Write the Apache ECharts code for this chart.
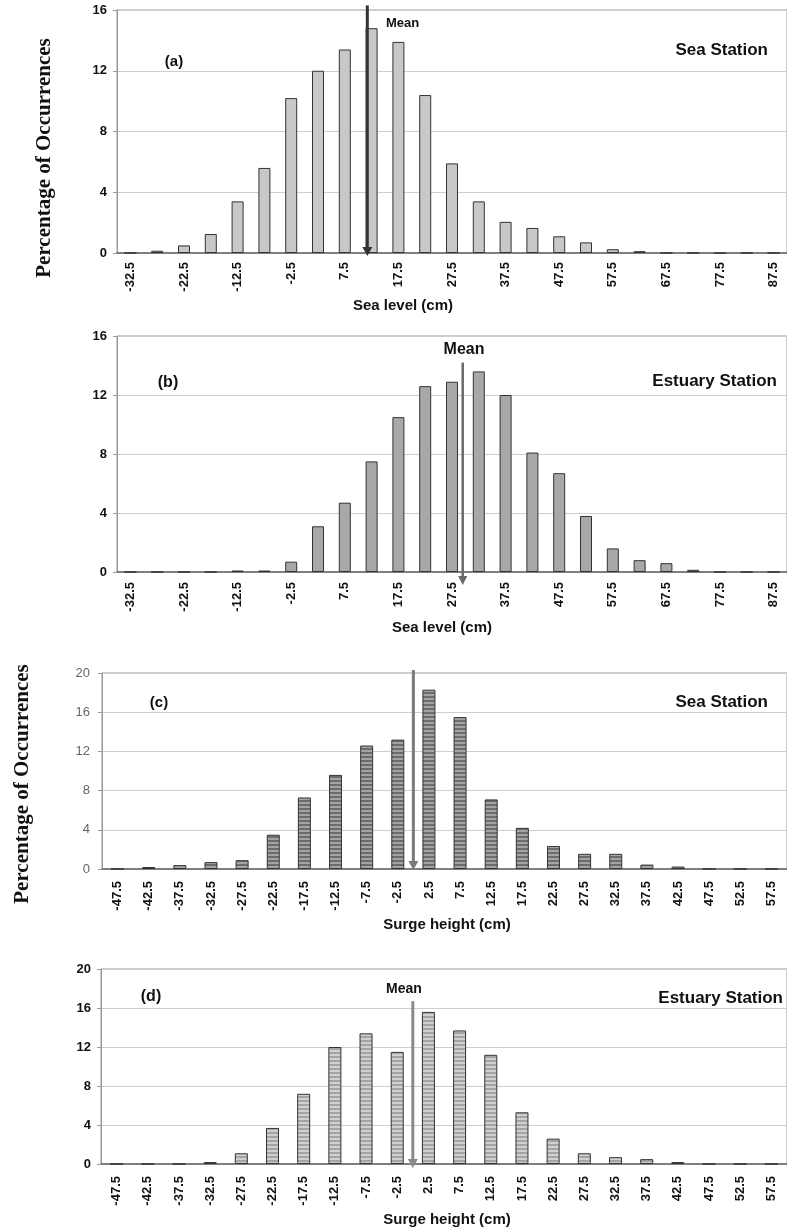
<!DOCTYPE html>
<html><head><meta charset="utf-8">
<script src="https://cdn.jsdelivr.net/npm/echarts@6/dist/echarts.min.js"></script>
<style>html,body{margin:0;padding:0;background:#fff}#c{width:787px;height:1232px}</style>
</head><body><div id="c"></div>
<script>
// ---------- data ----------
const seaLevelCats = ['-32.5','-27.5','-22.5','-17.5','-12.5','-7.5','-2.5','2.5','7.5','12.5','17.5','22.5','27.5','32.5','37.5','42.5','47.5','52.5','57.5','62.5','67.5','72.5','77.5','82.5','87.5'];
const seaStationLevel     = [0, 0.15, 0.5, 1.25, 3.4, 5.6, 10.2, 12.0, 13.4, 14.8, 13.9, 10.4, 5.9, 3.4, 2.05, 1.65, 1.1, 0.7, 0.25, 0.12, 0, 0, 0, 0, 0];
const estuaryStationLevel = [0, 0, 0, 0, 0.1, 0.1, 0.7, 3.1, 4.7, 7.5, 10.5, 12.6, 12.9, 13.6, 12.0, 8.1, 6.7, 3.8, 1.6, 0.8, 0.6, 0.15, 0, 0, 0];
const surgeCats = ['-47.5','-42.5','-37.5','-32.5','-27.5','-22.5','-17.5','-12.5','-7.5','-2.5','2.5','7.5','12.5','17.5','22.5','27.5','32.5','37.5','42.5','47.5','52.5','57.5'];
const seaStationSurge     = [0, 0.2, 0.4, 0.7, 0.9, 3.5, 7.3, 9.6, 12.6, 13.2, 18.3, 15.5, 7.1, 4.2, 2.35, 1.55, 1.55, 0.45, 0.25, 0, 0, 0];
const estuaryStationSurge = [0, 0, 0, 0.2, 1.1, 3.7, 7.2, 12.0, 13.4, 11.5, 15.6, 13.7, 11.2, 5.3, 2.6, 1.1, 0.7, 0.5, 0.2, 0, 0, 0];
// mean values (cm) and the vertical extent of the mean arrows (in % units)
const meanValues = [11.7, 29.5, 0, 0];
const meanArrowTop = [16.3, 14.2, 20.3, 16.7];
const meanArrowBottom = [-0.2, -0.88, -0.1, -0.4];
// ---------- chart ----------
const FONT = '"Liberation Sans", Arial, sans-serif';
function stripe(a, b) {
  const c = document.createElement('canvas'); c.width = 4; c.height = 4;
  const g = c.getContext('2d'); g.fillStyle = a; g.fillRect(0, 0, 4, 4);
  g.fillStyle = b; g.fillRect(0, 2, 4, 2); return c;
}
const panels = [
  {grid:{left:117, top:10, right:-4, height:243}, cats:seaLevelCats, data:seaStationLevel, min:-35, max:90, ymax:16, labelEvery:1,
   fill:'#c8c8c8', barW:12, arrowColor:'#333', arrowW:3, headW:10, headL:9, yColor:'#111', yWeight:'bold', xMargin:9, yMargin:10},
  {grid:{left:117, top:336, right:-1, height:236}, cats:seaLevelCats, data:estuaryStationLevel, min:-35, max:90, ymax:16, labelEvery:1,
   fill:'#a8a8a8', barW:12, arrowColor:'#6a6a6a', arrowW:2.5, headW:9, headL:9, yColor:'#111', yWeight:'bold', xMargin:10, yMargin:10},
  {grid:{left:102, top:673, right:-1, height:196}, cats:surgeCats, data:seaStationSurge, min:-50, max:60, ymax:20, labelEvery:0,
   fill:{image:stripe('#6c6c6c', '#a4a4a4'), repeat:'repeat'}, barW:13, arrowColor:'#7a7a7a', arrowW:3, headW:10, headL:9, yColor:'#666', yWeight:'normal', xMargin:12, yMargin:12},
  {grid:{left:101, top:969, right:-1, height:195}, cats:surgeCats, data:estuaryStationSurge, min:-50, max:60, ymax:20, labelEvery:0,
   fill:{image:stripe('#a4a4a4', '#d0d0d0'), repeat:'repeat'}, barW:13, arrowColor:'#8a8a8a', arrowW:3, headW:10, headL:9, yColor:'#111', yWeight:'bold', xMargin:12, yMargin:10}
];
const grid = [], xAxis = [], yAxis = [], series = [];
panels.forEach((p, i) => {
  grid.push(Object.assign({show:true, borderColor:'#9a9a9a', borderWidth:1, backgroundColor:'transparent'}, p.grid));
  xAxis.push({gridIndex:i, type:'category', data:p.cats, boundaryGap:true,
    axisLine:{onZero:false, lineStyle:{color:'#666', width:1.5}},
    axisTick:{interval:0, length:4, lineStyle:{color:'#888'}},
    axisLabel:{interval:p.labelEvery, rotate:90, fontFamily:FONT, fontWeight:'bold', fontSize:13, color:'#111', margin:p.xMargin}});
  xAxis.push({gridIndex:i, type:'value', min:p.min, max:p.max, show:false,
    axisLine:{onZero:false}, splitLine:{show:false}});
  yAxis.push({gridIndex:i, type:'value', min:0, max:p.ymax, interval:4,
    axisLine:{show:true, onZero:false, lineStyle:{color:'#999', width:1}},
    axisTick:{show:true, length:4, lineStyle:{color:'#999'}},
    axisLabel:{fontFamily:FONT, fontWeight:p.yWeight, fontSize:13, color:p.yColor, margin:p.yMargin},
    splitLine:{lineStyle:{color:'#cfcfcf', width:1}}});
  series.push({type:'bar', xAxisIndex:2*i, yAxisIndex:i, data:p.data, barWidth:p.barW, silent:true,
    itemStyle:{color:p.fill, borderColor:'#333', borderWidth:1}});
  series.push({type:'custom', xAxisIndex:2*i+1, yAxisIndex:i, silent:true, clip:false, z:5,
    encode:{x:0, y:1},
    data:[[meanValues[i], meanArrowTop[i], meanArrowBottom[i]]],
    renderItem:(params, api) => {
      const t = api.coord([api.value(0), api.value(1)]);
      const b = api.coord([api.value(0), api.value(2)]);
      const hw = p.headW / 2, hl = p.headL;
      return {type:'group', children:[
        {type:'line', shape:{x1:t[0], y1:t[1], x2:b[0], y2:b[1] - hl + 1},
         style:{stroke:p.arrowColor, lineWidth:p.arrowW}},
        {type:'polygon', shape:{points:[[b[0] - hw, b[1] - hl], [b[0] + hw, b[1] - hl], [b[0], b[1]]]},
         style:{fill:p.arrowColor}}
      ]};
    }});
});
function txt(x, y, text, size, opts) {
  opts = opts || {};
  return {type:'text', x:x, y:y, rotation:opts.rot || 0, silent:true,
    style:{text:text, fill:opts.color || '#111',
      font:(opts.weight || 'bold') + ' ' + size + 'px ' + (opts.family || FONT),
      align:opts.align || 'center', verticalAlign:'middle',
      textAlign:opts.align || 'center', textVerticalAlign:'middle'}};
}
const SERIF = '"Liberation Serif", "Times New Roman", serif';
const graphics = [
  txt(45, 158, 'Percentage of Occurrences', 21, {rot:Math.PI/2, family:SERIF}),
  txt(23, 784, 'Percentage of Occurrences', 21, {rot:Math.PI/2, family:SERIF}),
  txt(174, 62, '(a)', 15), txt(768, 50, 'Sea Station', 17, {align:'right'}),
  txt(386, 23, 'Mean', 13, {align:'left'}), txt(403, 306, 'Sea level (cm)', 15),
  txt(168, 383, '(b)', 16), txt(777, 381, 'Estuary Station', 17, {align:'right'}),
  txt(464, 350, 'Mean', 16), txt(442, 628, 'Sea level (cm)', 15),
  txt(159, 703, '(c)', 15), txt(768, 702, 'Sea Station', 17, {align:'right'}),
  txt(447, 925, 'Surge height (cm)', 15),
  txt(151, 997, '(d)', 16), txt(783, 998, 'Estuary Station', 17, {align:'right'}),
  txt(404, 989, 'Mean', 14), txt(447, 1220, 'Surge height (cm)', 15)
];
const chart = echarts.init(document.getElementById('c'), null, {renderer:'canvas'});
chart.setOption({animation:false, backgroundColor:'#fff', grid, xAxis, yAxis, series, graphic:graphics});
</script></body></html>
